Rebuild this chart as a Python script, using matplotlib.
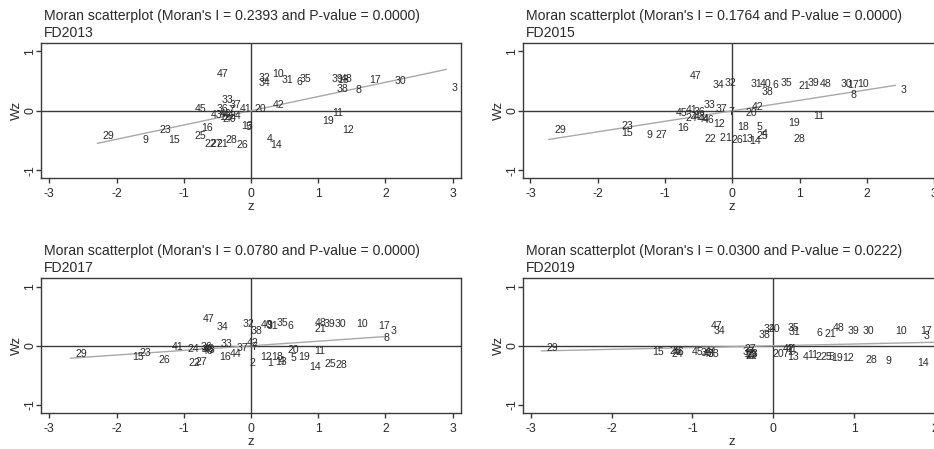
import matplotlib
matplotlib.use('Agg')
import matplotlib.pyplot as plt
import numpy as np

plt.rcParams['font.family'] = ['Liberation Sans', 'DejaVu Sans']
plt.rcParams['axes.unicode_minus'] = False

# ---------------- data ----------------
years = ['FD2013', 'FD2015', 'FD2017', 'FD2019']
moran_I = [0.2393, 0.1764, 0.0780, 0.0300]
p_values = [0.0000, 0.0000, 0.0000, 0.0222]

ids_2013 = [47, 32, 34, 10, 31, 45, 33, 37, 41, 36, 43, 1, 2, 7, 24, 44, 46, 40, 20, 42,
            13, 5, 16, 25, 22, 27, 21, 28, 26, 4, 14, 6, 35, 39, 48, 18, 38, 8, 17, 30,
            3, 11, 19, 12, 29, 9, 15, 23]
z_2013 = [-0.587, 0.044, 0.033, 0.246, 0.380, -0.918, -0.506, -0.387, -0.249, -0.587,
          -0.680, -0.543, -0.503, -0.404, -0.398, -0.497, -0.532, -0.472, -0.016, 0.246,
          -0.224, -0.157, -0.819, -0.918, -0.759, -0.670, -0.581, -0.447, -0.283, 0.166,
          0.212, 0.601, 0.643, 1.123, 1.263, 1.213, 1.204, 1.479, 1.684, 2.056,
          2.902, 1.138, 0.990, 1.287, -2.282, -1.688, -1.300, -1.428]
wz_2013 = [0.625, 0.558, 0.474, 0.625, 0.513, 0.037, 0.176, 0.092, 0.037, 0.037,
           -0.064, -0.104, -0.131, 0.008, -0.087, -0.076, -0.047, -0.131, 0.037, 0.104,
           -0.261, -0.272, -0.289, -0.424, -0.551, -0.551, -0.551, -0.496, -0.568, -0.479,
           -0.580, 0.491, 0.541, 0.541, 0.541, 0.513, 0.373, 0.345, 0.513, 0.496,
           0.383, -0.030, -0.176, -0.316, -0.429, -0.484, -0.484, -0.328]

ids_2015 = [47, 34, 32, 31, 40, 6, 35, 38, 33, 37, 7, 42, 20, 45, 41, 36, 24, 43, 44, 46,
            12, 16, 18, 5, 25, 4, 22, 2, 1, 26, 13, 14, 19, 11, 28, 29, 23, 15, 9, 27,
            21, 39, 48, 30, 17, 10, 8, 3]
z_2015 = [-0.714, -0.368, -0.194, 0.203, 0.341, 0.518, 0.638, 0.360, -0.501, -0.328,
          -0.125, 0.218, 0.129, -0.912, -0.763, -0.650, -0.763, -0.640, -0.591, -0.516,
          -0.353, -0.897, -0.005, 0.285, 0.292, 0.369, -0.481, -0.264, -0.178, -0.085,
          0.059, 0.178, 0.757, 1.133, 0.842, -2.724, -1.720, -1.729, -1.344, -1.215,
          0.916, 1.044, 1.218, 1.540, 1.629, 1.778, 1.681, 2.424]
wz_2015 = [0.580, 0.429, 0.474, 0.445, 0.445, 0.429, 0.467, 0.316, 0.092, 0.025,
           -0.020, 0.064, -0.037, -0.030, 0.020, -0.020, -0.121, -0.104, -0.131, -0.148,
           -0.227, -0.282, -0.272, -0.272, -0.424, -0.395, -0.479, -0.462, -0.452, -0.496,
           -0.479, -0.507, -0.205, -0.092, -0.474, -0.316, -0.261, -0.373, -0.403, -0.412,
           0.412, 0.467, 0.457, 0.445, 0.429, 0.457, 0.261, 0.345]

ids_2017 = [47, 34, 32, 38, 40, 9, 31, 35, 6, 48, 21, 39, 30, 10, 17, 3, 8, 41, 24, 36,
            45, 46, 43, 33, 37, 42, 7, 16, 44, 26, 22, 27, 2, 12, 18, 1, 13, 4, 5, 20,
            19, 11, 14, 25, 28, 29, 23, 15]
z_2017 = [-0.792, -0.579, -0.207, -0.074, 0.066, 0.158, 0.164, 0.313, 0.466, 0.874,
          0.874, 1.007, 1.171, 1.494, 1.810, 2.000, 1.894, -1.248, -1.025, -0.822,
          -0.799, -0.807, -0.777, -0.529, -0.282, -0.133, -0.072, -0.554, -0.390, -1.446,
          -1.000, -0.900, -0.099, 0.066, 0.225, 0.169, 0.289, 0.337, 0.520, 0.462,
          0.626, 0.859, 0.784, 1.018, 1.181, -2.685, -1.733, -1.843]
wz_2017 = [0.456, 0.316, 0.367, 0.253, 0.355, 0.355, 0.338, 0.383, 0.326, 0.383,
           0.287, 0.367, 0.367, 0.367, 0.326, 0.253, 0.140, -0.012, -0.056, -0.017,
           -0.051, -0.084, -0.068, 0.029, -0.039, 0.046, -0.017, -0.181, -0.140, -0.236,
           -0.293, -0.276, -0.293, -0.181, -0.197, -0.293, -0.282, -0.253, -0.208, -0.068,
           -0.197, -0.096, -0.350, -0.309, -0.321, -0.140, -0.123, -0.191]

ids_2019 = [29, 15, 26, 24, 46, 45, 36, 43, 44, 33, 47, 34, 27, 18, 16, 23, 22, 37, 38, 32,
            40, 20, 7, 1, 13, 42, 41, 35, 31, 6, 21, 48, 39, 30, 10, 17, 3, 4, 11, 2,
            25, 5, 19, 12, 28, 9, 14, 8]
z_2019 = [-2.868, -1.556, -1.341, -1.321, -1.300, -1.074, -0.966, -0.929, -0.904, -0.873,
          -0.834, -0.801, -0.421, -0.434, -0.415, -0.397, -0.409, -0.440, -0.248, -0.183,
          -0.112, -0.071, 0.048, 0.110, 0.107, 0.053, 0.098, 0.115, 0.123, 0.472,
          0.569, 0.672, 0.857, 1.043, 1.443, 1.758, 1.793, 0.308, 0.362, 0.456,
          0.519, 0.629, 0.655, 0.791, 1.085, 1.326, 1.722, 2.000]
wz_2019 = [-0.029, -0.106, -0.096, -0.140, -0.110, -0.113, -0.123, -0.135, -0.110, -0.144,
           0.338, 0.242, -0.056, -0.135, -0.160, -0.135, -0.177, -0.110, 0.186, 0.282,
           0.282, -0.135, -0.140, -0.101, -0.181, -0.056, -0.051, 0.299, 0.225, 0.215,
           0.203, 0.299, 0.258, 0.258, 0.242, 0.242, 0.169, -0.181, -0.152, -0.186,
           -0.181, -0.186, -0.203, -0.211, -0.236, -0.265, -0.292, 0.080]

all_ids = [ids_2013, ids_2015, ids_2017, ids_2019]
all_z = [z_2013, z_2015, z_2017, z_2019]
all_wz = [wz_2013, wz_2015, wz_2017, wz_2019]

x_ticks = [[-3, -2, -1, 0, 1, 2, 3]] * 3 + [[-3, -2, -1, 0, 1, 2]]
y_ticks = [-1, 0, 1]

# ---------------- layout (pixels) ----------------
W, H, DPI = 934, 449, 100
PT = 72.0 / DPI
fig = plt.figure(figsize=(W / DPI, H / DPI), dpi=DPI)
fig.patch.set_facecolor('white')

boxes = [(41, 43.3, 420, 135), (523.3, 43.3, 418, 135),
         (41, 278.3, 420, 135), (523.3, 278.3, 418, 135)]
xlims = [(-3.123, 3.123), (-3.106, 3.106), (-3.123, 3.123), (-3.094, 2.08)]
ylims = [(-1.134, 1.134), (-1.134, 1.134), (-1.14, 1.14), (-1.14, 1.14)]

dark = '#3a3a3a'
txt = '#2a2a2a'

for k in range(4):
    l, t, w, h = boxes[k]
    ax = fig.add_axes([l / W, 1 - (t + h) / H, w / W, h / H])
    ax.set_xlim(*xlims[k])
    ax.set_ylim(*ylims[k])
    for s in ax.spines.values():
        s.set_color(dark)
        s.set_linewidth(1.0)
    ax.axhline(0, color=dark, lw=1.0, zorder=1)
    ax.axvline(0, color=dark, lw=1.0, zorder=1)

    z = np.array(all_z[k])
    wz = np.array(all_wz[k])
    zz = np.array([z.min(), z.max()])
    ax.plot(zz, moran_I[k] * zz, color='#a8a8a8', lw=1.0, zorder=2)

    for i, zi, wi in zip(all_ids[k], z, wz):
        ax.annotate(str(i), (zi, wi), xytext=(5 * PT, 0), textcoords='offset points',
                    ha='left', va='center', fontsize=7.6, color=txt, zorder=3)

    ax.set_xticks(x_ticks[k])
    ax.set_xticklabels([str(v) for v in x_ticks[k]])
    ax.set_yticks(y_ticks)
    ax.set_yticklabels([str(v) for v in y_ticks], rotation=90, va='center')
    ax.tick_params(direction='out', length=5 * PT, width=1.0, colors=dark,
                   labelcolor=txt, labelsize=8.8, pad=3.5)
    ax.tick_params(axis='y', pad=0)
    ax.set_xlabel('z', fontsize=9.5, color=txt, labelpad=0.5)
    ax.set_ylabel('Wz', fontsize=9.5, color=txt, labelpad=1)

    title1 = "Moran scatterplot (Moran's I = %.4f and P-value = %.4f)" % (moran_I[k], p_values[k])
    ax.annotate(title1, (0, 1), xycoords='axes fraction', xytext=(3 * PT, 27.6 * PT),
                textcoords='offset points', ha='left', va='center', fontsize=10.1, color=txt)
    ax.annotate(years[k], (0, 1), xycoords='axes fraction', xytext=(3 * PT, 10 * PT),
                textcoords='offset points', ha='left', va='center', fontsize=10.1, color=txt)

fig.savefig('out.png', dpi=DPI, facecolor='white')
